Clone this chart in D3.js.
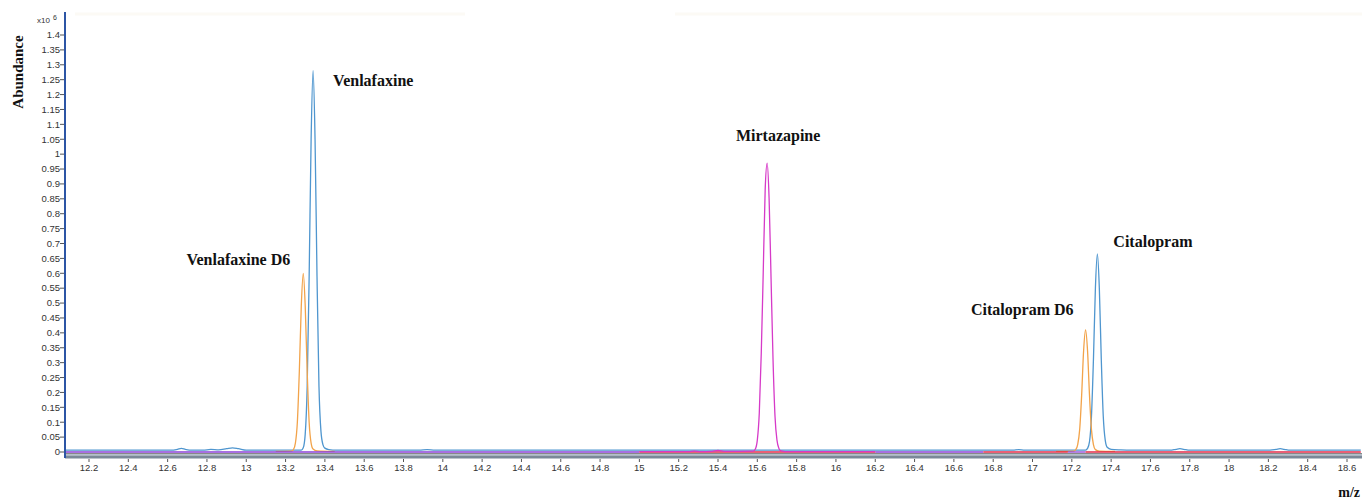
<!DOCTYPE html>
<head>
    <style>
        body { margin: 0; background: #fff; }
        .tick-label { font-family: "Liberation Sans", Arial, sans-serif; font-size: 9.5px; fill: #333; }
        .peak-label { font-family: "Liberation Serif", "Times New Roman", serif; font-weight: bold; font-size: 16px; fill: #111; }
        .trace { fill: none; stroke-width: 1.3px; }
    </style>
    <script src="https://d3js.org/d3.v7.min.js"></script>
</head>
<body>
<script>
    const width = 1362, height = 500;

    // tick values
    const xTicks = [12.2, 12.4, 12.6, 12.8, 13, 13.2, 13.4, 13.6, 13.8, 14, 14.2, 14.4, 14.6, 14.8, 15, 15.2,
        15.4, 15.6, 15.8, 16, 16.2, 16.4, 16.6, 16.8, 17, 17.2, 17.4, 17.6, 17.8, 18, 18.2, 18.4, 18.6];
    const yTicks = [0, 0.05, 0.1, 0.15, 0.2, 0.25, 0.3, 0.35, 0.4, 0.45, 0.5, 0.55, 0.6, 0.65, 0.7, 0.75,
        0.8, 0.85, 0.9, 0.95, 1, 1.05, 1.1, 1.15, 1.2, 1.25, 1.3, 1.35, 1.4];

    // traces [retention time, abundance x10^6]
    const blueTrace = [
        [12.08, 0.006], [12.3, 0.006], [12.5, 0.006], [12.62, 0.006], [12.65, 0.009], [12.67, 0.012], [12.69, 0.009],
        [12.72, 0.006], [12.78, 0.006], [12.82, 0.009], [12.86, 0.007], [12.9, 0.011], [12.93, 0.014], [12.96, 0.011],
        [13.0, 0.006], [13.1, 0.006], [13.2, 0.006], [13.28, 0.006], [13.29, 0.014], [13.30, 0.06], [13.31, 0.22],
        [13.32, 0.59], [13.33, 1.05], [13.34, 1.28], [13.35, 1.05], [13.36, 0.59], [13.37, 0.22], [13.38, 0.07],
        [13.39, 0.025], [13.40, 0.013], [13.42, 0.008], [13.46, 0.006], [13.6, 0.006], [13.88, 0.006], [13.92, 0.008],
        [13.96, 0.006], [14.2, 0.006], [14.5, 0.006], [14.8, 0.006], [15.0, 0.006], [15.5, 0.006], [16.0, 0.006],
        [16.5, 0.006], [16.9, 0.006], [16.93, 0.008], [16.96, 0.006], [17.2, 0.006], [17.27, 0.006], [17.28, 0.012],
        [17.29, 0.035], [17.30, 0.12], [17.31, 0.31], [17.32, 0.55], [17.33, 0.665], [17.34, 0.55], [17.35, 0.31],
        [17.36, 0.12], [17.37, 0.04], [17.38, 0.016], [17.40, 0.009], [17.45, 0.007], [17.5, 0.006], [17.7, 0.006],
        [17.73, 0.009], [17.75, 0.011], [17.77, 0.009], [17.8, 0.006], [18.2, 0.006], [18.24, 0.009], [18.26, 0.011],
        [18.28, 0.009], [18.31, 0.006], [18.67, 0.006]
    ];
    const orangeTrace1 = [
        [13.15, 0.002], [13.23, 0.003], [13.24, 0.008], [13.25, 0.03], [13.26, 0.1], [13.27, 0.27], [13.28, 0.49],
        [13.29, 0.6], [13.30, 0.49], [13.31, 0.27], [13.32, 0.1], [13.33, 0.03], [13.34, 0.01], [13.36, 0.004], [13.45, 0.002]
    ];
    const orangeTrace2 = [
        [17.12, 0.002], [17.21, 0.003], [17.22, 0.008], [17.23, 0.025], [17.24, 0.075], [17.25, 0.19], [17.26, 0.34],
        [17.27, 0.41], [17.28, 0.34], [17.29, 0.19], [17.30, 0.075], [17.31, 0.025], [17.32, 0.008], [17.34, 0.003], [17.42, 0.002]
    ];
    const magentaTrace = [
        [15.0, 0.001], [15.25, 0.001], [15.28, 0.003], [15.31, 0.001], [15.37, 0.002], [15.40, 0.005], [15.43, 0.002],
        [15.58, 0.003], [15.59, 0.01], [15.60, 0.04], [15.61, 0.13], [15.62, 0.33], [15.63, 0.6], [15.64, 0.88],
        [15.65, 0.97], [15.66, 0.85], [15.67, 0.58], [15.68, 0.31], [15.69, 0.12], [15.70, 0.04], [15.71, 0.012],
        [15.72, 0.004], [15.76, 0.001], [16.2, 0.001]
    ];
    const purpleSegments = [
        [[12.08, 0.0], [15.0, 0.0]],
        [[16.2, 0.0], [16.75, 0.0]],
        [[17.18, 0.0], [17.27, 0.0]]
    ];
    const redSegments = [
        [[15.0, 0.0], [16.2, 0.0]],
        [[16.75, 0.0], [17.18, 0.0]],
        [[17.27, 0.0], [18.67, 0.0]]
    ];

    // peak labels
    const peakNames = ["Venlafaxine", "Venlafaxine D6", "Mirtazapine", "Citalopram D6", "Citalopram"];
    const peakApex = [[13.34, 1.28], [13.29, 0.6], [15.65, 0.97], [17.27, 0.41], [17.33, 0.665]];

    const x = d3.scaleLinear().domain([12.2, 18.6]).range([89, 1347]);
    const y = d3.scaleLinear().domain([0, 1.4]).range([452, 35]);

    const svg = d3.select('body').append('svg')
        .attr('width', width)
        .attr('height', height);

    const line = d3.line()
        .x(d => x(d[0]))
        .y(d => y(d[1]))
        .curve(d3.curveMonotoneX);

    // faint top rule
    svg.append('line').attr('x1', 75).attr('x2', 465).attr('y1', 14).attr('y2', 14)
        .attr('stroke', '#fcfaf5').attr('stroke-width', 3);
    svg.append('line').attr('x1', 675).attr('x2', width).attr('y1', 14).attr('y2', 14)
        .attr('stroke', '#fcfaf5').attr('stroke-width', 3);

    const plot = svg.append('g');

    // gray baseline
    plot.append('line')
        .attr('x1', x(12.08)).attr('x2', width)
        .attr('y1', y(0) + 1.5).attr('y2', y(0) + 1.5)
        .attr('stroke', '#888').attr('stroke-width', 1);

    plot.append('path').datum(blueTrace).attr('class', 'trace').attr('stroke', '#4f96cf').attr('d', line);
    [orangeTrace1, orangeTrace2].forEach(t =>
        plot.append('path').datum(t).attr('class', 'trace').attr('stroke', '#f2a34a').attr('d', line));
    purpleSegments.forEach(t =>
        plot.append('path').datum(t).attr('class', 'trace').attr('stroke', '#8a3fd8').attr('stroke-width', 1.8).attr('d', line));
    redSegments.forEach(t =>
        plot.append('path').datum(t).attr('class', 'trace').attr('stroke', '#e22a48').attr('stroke-width', 1.8).attr('d', line));
    plot.append('path').datum(magentaTrace).attr('class', 'trace').attr('stroke', '#d63ac8').attr('d', line);

    // x axis bar
    svg.append('rect').attr('x', 65).attr('y', 454).attr('width', width - 65).attr('height', 1.5).attr('fill', '#b3bfcb');
    svg.append('rect').attr('x', 65).attr('y', 455.5).attr('width', width - 65).attr('height', 3).attr('fill', '#7a8898');

    const xAxis = svg.append('g');
    xAxis.selectAll('line').data(xTicks).enter().append('line')
        .attr('x1', d => x(d)).attr('x2', d => x(d))
        .attr('y1', 459).attr('y2', 462)
        .attr('stroke', '#555');
    xAxis.selectAll('text').data(xTicks).enter().append('text')
        .attr('class', 'tick-label')
        .attr('x', d => x(d)).attr('y', 471)
        .attr('text-anchor', 'middle')
        .text(d => d);

    // y axis
    svg.append('line').attr('x1', 65).attr('x2', 65).attr('y1', 12).attr('y2', 458)
        .attr('stroke', '#2c55a5').attr('stroke-width', 2);
    const yAxis = svg.append('g');
    yAxis.selectAll('line').data(yTicks).enter().append('line')
        .attr('x1', 60).attr('x2', 64)
        .attr('y1', d => y(d)).attr('y2', d => y(d))
        .attr('stroke', '#555');
    yAxis.selectAll('text').data(yTicks).enter().append('text')
        .attr('class', 'tick-label')
        .attr('x', 60).attr('y', d => y(d) + 3.3)
        .attr('text-anchor', 'end')
        .text(d => d);

    // exponent
    const expo = svg.append('text').attr('class', 'tick-label').attr('x', 37).attr('y', 23).style('font-size', '8px');
    expo.append('tspan').text('x10');
    expo.append('tspan').attr('dx', 3).attr('dy', -3).style('font-size', '7px').text('6');

    // axis titles
    svg.append('text').attr('class', 'peak-label')
        .attr('transform', 'translate(23,72) rotate(-90)')
        .attr('text-anchor', 'middle')
        .style('font-size', '15px')
        .text('Abundance');
    svg.append('text').attr('class', 'peak-label')
        .attr('x', 1360).attr('y', 497)
        .attr('text-anchor', 'end')
        .style('font-size', '14px')
        .text('m/z');

    // peak labels, placed beside each apex
    const labelOffsets = [[20, 15, 'start'], [-13, -8, 'end'], [11, -22, 'middle'], [-12, -15, 'end'], [16, -7, 'start']];
    svg.selectAll('text.name').data(peakNames).enter().append('text')
        .attr('class', 'peak-label name')
        .attr('x', (d, i) => x(peakApex[i][0]) + labelOffsets[i][0])
        .attr('y', (d, i) => y(peakApex[i][1]) + labelOffsets[i][1])
        .attr('text-anchor', (d, i) => labelOffsets[i][2])
        .text(d => d);
</script>
</body>
